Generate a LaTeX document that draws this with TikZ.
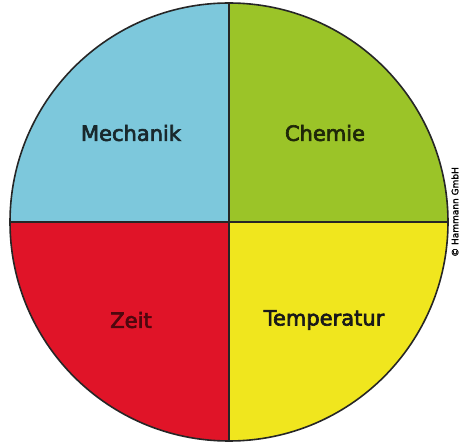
\documentclass[tikz,border=0pt]{standalone}
\usepackage{fontspec}
\setmainfont{DejaVu Sans}
\newfontfamily\labelfont[FakeBold=3]{DejaVu Sans}
\newfontfamily\notefont[FakeBold=1.5]{DejaVu Sans}

\definecolor{mechblue}{RGB}{125,200,220}
\definecolor{chemgreen}{RGB}{155,196,40}
\definecolor{zeitred}{RGB}{224,20,40}
\definecolor{tempyellow}{RGB}{240,230,30}

\begin{document}
\begin{tikzpicture}[x=1pt,y=1pt]

\tikzset{
  quadrant/.style={
    draw=black!85,
    line width=1.6pt,
    line join=round
  },
  fieldlabel/.style={
    font=\labelfont\fontsize{21}{24}\selectfont,
    inner sep=0pt
  },
  copyrightlabel/.style={
    rotate=90,
    font=\notefont\fontsize{9}{11}\selectfont,
    inner sep=0pt
  }
}

\useasboundingbox (0,0) rectangle (461,445);

% Centre and radius of the circle
\coordinate (M) at (229,223);
\def\R{219}

% Quadrants
\filldraw[quadrant, fill=mechblue]
  (M) -- ++(180:\R) arc[start angle=180, end angle=90, radius=\R] -- cycle;
\filldraw[quadrant, fill=chemgreen]
  (M) -- ++(90:\R) arc[start angle=90, end angle=0, radius=\R] -- cycle;
\filldraw[quadrant, fill=tempyellow]
  (M) -- ++(0:\R) arc[start angle=0, end angle=-90, radius=\R] -- cycle;
\filldraw[quadrant, fill=zeitred]
  (M) -- ++(-90:\R) arc[start angle=-90, end angle=-180, radius=\R] -- cycle;

% Labels
\node[fieldlabel, text=mechblue!20!black] (mechanik) at (131,312) {Mechanik};
\node[fieldlabel, text=chemgreen!20!black] (chemie) at (325,312) {Chemie};
\node[fieldlabel, text=zeitred!35!black] (zeit) at (131,125) {Zeit};
\node[fieldlabel, text=black!90] (temperatur) at (324,125) {Temperatur};

% Copyright
\node[copyrightlabel] (copyright) at (455,233) {© Hammann GmbH};

\end{tikzpicture}
\end{document}
